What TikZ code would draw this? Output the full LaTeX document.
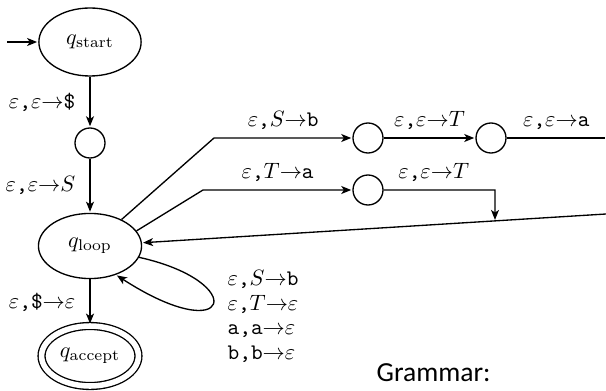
\documentclass[tikz,border=0pt]{standalone}
\usepackage{fontspec}
\newfontfamily\grammarfont{Carlito}
\usetikzlibrary{arrows.meta,automata,positioning,shapes.geometric}
\newcommand{\trans}[3]{$#1\texttt{,}#2{\rightarrow}#3$}

\begin{document}
\begin{tikzpicture}[x=0.45pt,y=-0.45pt,shorten >=0.5pt,on grid,line width=0.6pt,
	>={Stealth[length=4.5pt,width=3.6pt,inset=1.2pt]},
	every state/.style={ellipse,minimum width=46pt,minimum height=30.6pt,inner sep=0pt},
	junction/.style={state,circle,minimum size=13.5pt},
	initial text={},initial distance=14pt]
			\useasboundingbox (0,0) rectangle (606,391);

			\node[state,initial] (start) at (90,42) {$q_{\mathrm{start}}$};
			\node[junction] (push) [below=45.45pt of start] {};
			\node[state,minimum width=46.4pt,minimum height=29.3pt] (loop) [below=46.35pt of push] {$q_{\mathrm{loop}}$};
			\node[state,accepting,double distance=2.5pt,minimum width=43.6pt,minimum height=27pt] (accept) [below=49.5pt of loop] {$q_{\mathrm{accept}}$};
			\node[junction] (sb1) at (368,138) {};
			\node[junction] (sb2) [right=55.35pt of sb1] {};
			\node[junction] (ta1) [below=23.4pt of sb1] {};

			\coordinate (k1) at (214,138);
			\coordinate (k2) at (203,190);
			\coordinate (k3) at (495,190);
			\coordinate (out1) at (606,138);
			\coordinate (ret) at (606,214);
			\coordinate (hit) at (495,221);

			\path[->] (start) edge node [left=3pt] {\trans{\varepsilon}{\varepsilon}{\texttt{\$}}} (push)
					  (push) edge node [left=3pt] {\trans{\varepsilon}{\varepsilon}{S}} (loop)
					  (loop) edge node [left=3pt] {\trans{\varepsilon}{\texttt{\$}}{\varepsilon}} (accept)
					  (sb1) edge node [above] {\trans{\varepsilon}{\varepsilon}{T}} (sb2);

			\draw[->] (loop.40) -- (k1) -- node [above] {\trans{\varepsilon}{S}{\texttt{b}}} (sb1);
			\draw (sb2) -- node [above] {\trans{\varepsilon}{\varepsilon}{\texttt{a}}} (out1);
			\draw[->] (loop.18) -- (k2) -- node [above] {\trans{\varepsilon}{T}{\texttt{a}}} (ta1);
			\draw[->] (ta1) -- node [above,pos=0.45] {\trans{\varepsilon}{\varepsilon}{T}} (k3) -- (hit);
			\draw[->] (ret) -- (loop);
			\draw[->] (loop.-13) .. controls (250,282) and (232,350) .. (loop.-48);

			\node[anchor=north west,align=left,inner sep=0pt] (looplab) at (227,270)
				{\trans{\varepsilon}{S}{\texttt{b}}\\[-1pt]
				 \trans{\varepsilon}{T}{\varepsilon}\\[-1pt]
				 \trans{\texttt{a}}{\texttt{a}}{\varepsilon}\\[-1pt]
				 \trans{\texttt{b}}{\texttt{b}}{\varepsilon}};

			\node[anchor=base west,inner sep=0pt,font=\grammarfont\fontsize{12.4}{15}\selectfont] (grammar) at (376,381) {Grammar:};

\end{tikzpicture}
\end{document}
